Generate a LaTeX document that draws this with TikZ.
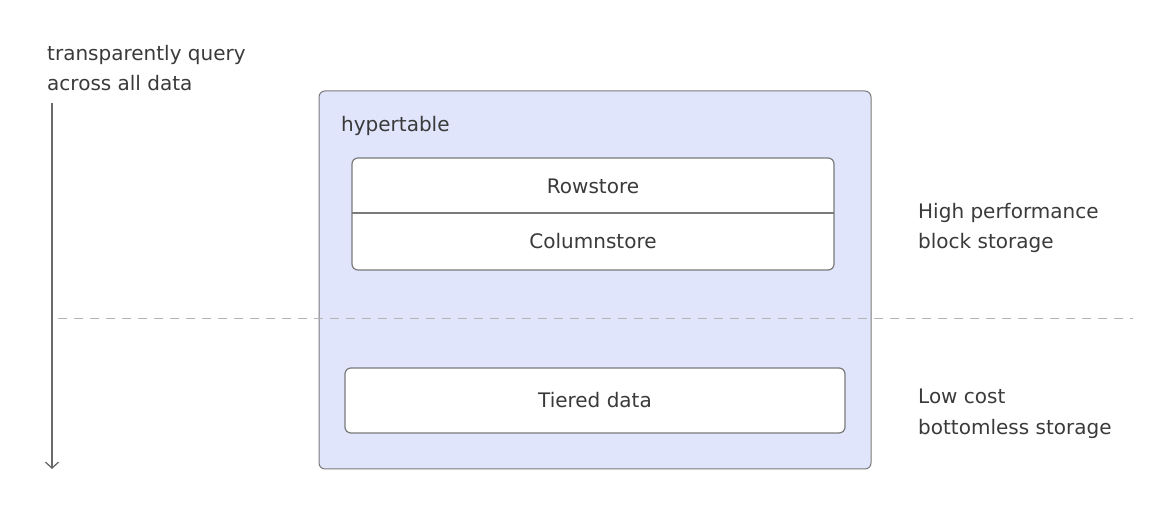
\documentclass[tikz,border=0pt]{standalone}
\usepackage{fontspec}
\setmainfont{DejaVu Sans}
\usetikzlibrary{arrows.meta}
\definecolor{txt}{HTML}{3A3A3A}
\definecolor{edgegray}{HTML}{7A7A7A}
\definecolor{arrowgray}{HTML}{6A6A6A}
\definecolor{hyper}{HTML}{E0E5FB}
\definecolor{dashgray}{HTML}{B4B4B4}
\begin{document}
\begin{tikzpicture}[x=1pt,y=-1pt,
  lbl/.style={font=\fontsize{20}{30.5}\selectfont, text=txt, inner sep=0pt},
  boxw/.style={draw=edgegray, line width=1.2pt, fill=white, rounded corners=6pt}]
\useasboundingbox (0,0) rectangle (1176,510);
% hypertable
\draw[draw=edgegray, line width=1pt, fill=hyper, rounded corners=6pt] (319,91) rectangle (871,469);
\node[lbl, anchor=west] (ht) at (341,126) {hypertable};
% row/column store
\draw[boxw] (352,158) rectangle (834,270);
\coordinate (dl) at (352,213);
\coordinate (dr) at (834,213);
\draw[edgegray, line width=1.2pt] (dl) -- (dr);
\node[lbl] (row) at (593,186) {Rowstore};
\node[lbl] (col) at (593,241) {Columnstore};
% tiered
\draw[boxw] (345,368) rectangle (845,433);
\node[lbl] (tier) at (595,400) {Tiered data};
% dashed line
\coordinate (d1) at (58,319);
\coordinate (d2) at (1133,319);
\draw[dashgray, line width=1pt, dash pattern=on 9pt off 7pt] (d1) -- (d2);
% arrow
\coordinate (a1) at (52,103);
\coordinate (a2) at (52,469);
\draw[arrowgray, line width=1.2pt, -{Straight Barb[length=6pt,width=13pt,line width=1.3pt]}] (a1) -- (a2);
% left text
\node[lbl, anchor=west, align=left] (q) at (47,68) {transparently query\\across all data};
% right texts
\node[lbl, anchor=west, align=left] (hp) at (918,228) {High performance\\block storage};
\node[lbl, anchor=west, align=left] (lc) at (918,414) {Low cost\\bottomless storage};
\end{tikzpicture}
\end{document}
